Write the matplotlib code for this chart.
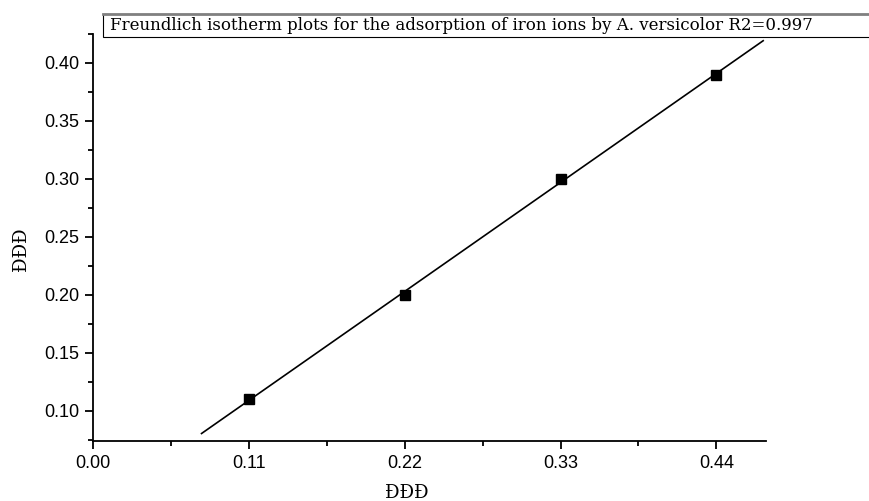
import numpy as np
import matplotlib.pyplot as plt
from matplotlib.ticker import MultipleLocator, FixedLocator
from matplotlib.patches import Rectangle
from matplotlib.lines import Line2D

# datos
x_vals = [0.11, 0.22, 0.33, 0.44]
y_vals = [0.11, 0.20, 0.30, 0.39]
x_ticks = [0.00, 0.11, 0.22, 0.33, 0.44]
y_ticks = [0.10, 0.15, 0.20, 0.25, 0.30, 0.35, 0.40]
fit_range = [0.0766, 0.473]
titulo = "Freundlich isotherm plots for the adsorption of iron ions by A. versicolor R2=0.997"
etiqueta = "ÐÐÐ"

fig = plt.figure(figsize=(8.7, 5.01), dpi=100)
ax = fig.add_axes([93/870, 1-441/501, (766-93)/870, (441-34)/501])

# recta de ajuste
pend, orden = np.polyfit(x_vals, y_vals, 1)
xf = np.array(fit_range)
ax.plot(xf, pend*xf + orden, color='black', lw=1.2, zorder=2)
ax.plot(x_vals, y_vals, 's', color='black', ms=7, zorder=3)

ax.set_xlim(0, 0.475)
ax.set_ylim(0.074, 0.425)
ax.xaxis.set_major_locator(FixedLocator(x_ticks))
ax.xaxis.set_minor_locator(FixedLocator([0.055, 0.165, 0.275, 0.385]))
ax.yaxis.set_major_locator(FixedLocator(y_ticks))
ax.yaxis.set_minor_locator(MultipleLocator(0.025))
ax.set_xticklabels([f"{t:.2f}" for t in x_ticks])
ax.set_yticklabels([f"{t:.2f}" for t in y_ticks])

for s in ['top', 'right']:
    ax.spines[s].set_visible(False)
for s in ['left', 'bottom']:
    ax.spines[s].set_linewidth(1.3)
ax.tick_params(which='major', direction='out', length=6, width=1.3,
               labelsize=13, labelfontfamily='Liberation Sans', pad=4)
ax.tick_params(which='minor', direction='out', length=3.5, width=1.3)

ax.set_xlabel(etiqueta, family='DejaVu Serif', fontsize=13, labelpad=4)
ax.xaxis.set_label_coords(0.466, -0.105)
ax.set_ylabel(etiqueta, family='DejaVu Serif', fontsize=13)
ax.yaxis.set_label_coords(-0.094, 0.47)

# recuadro del título
fig.patches.append(Rectangle((103/870, 1-37/501), 0.9, 23/501, transform=fig.transFigure,
                             facecolor='white', edgecolor='black', lw=0.8))
fig.lines.append(Line2D([103/870, 1], [1-14/501, 1-14/501], transform=fig.transFigure,
                        color='gray', lw=2))
fig.text(110/870, 1-26/501, titulo, family='DejaVu Serif', fontsize=12,
         va='center', ha='left')

fig.savefig('out.png', dpi=100)
